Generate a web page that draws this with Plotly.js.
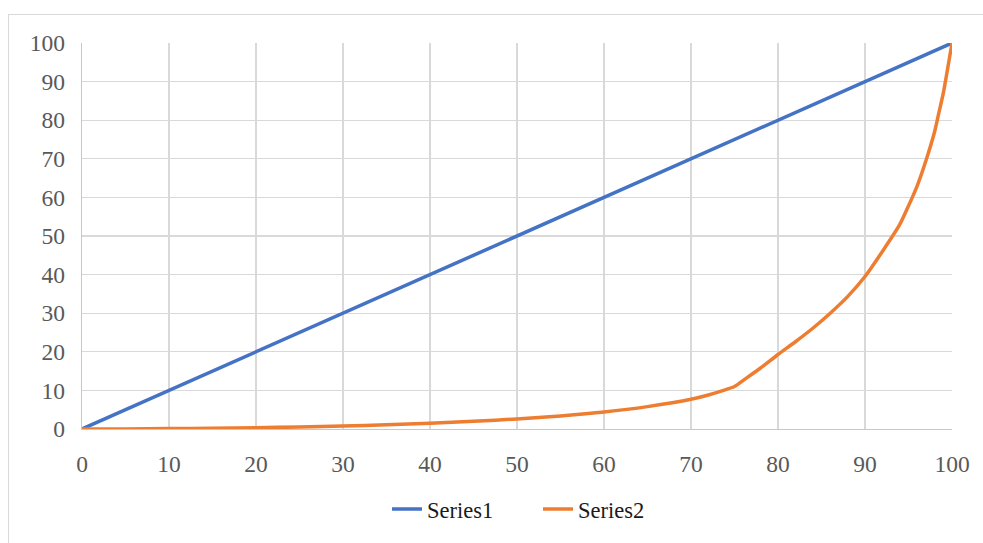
<!DOCTYPE html>
<html>
<head>
<meta charset="utf-8">
<script src="https://cdn.plot.ly/plotly-3.0.1.min.js"></script>
<style>
  html, body { margin: 0; padding: 0; background: #ffffff; }
  #wrap { position: relative; width: 983px; height: 543px; overflow: hidden; }
  #chart { position: absolute; left: 0; top: 0; width: 983px; height: 543px; }
  #frame {
    position: absolute; left: 8px; top: 14px; width: 1100px; height: 700px;
    border: 1px solid #d9d9d9; pointer-events: none; box-sizing: border-box;
  }
</style>
</head>
<body>
<div id="wrap">
  <div id="chart"></div>
  <div id="frame"></div>
</div>
<script>
// Line of equality
const series1X = [0, 100];
const series1Y = [0, 100];

// Cumulative share curve
const series2X = [0, 5, 10, 15, 20, 25, 30, 35, 40, 45, 50, 55, 60, 65, 70, 72, 74, 75, 76, 78, 80, 82, 84, 86, 88, 90, 92, 94, 95, 96, 97, 98, 98.5, 99, 100];
const series2Y = [0, 0.03, 0.1, 0.2, 0.35, 0.5, 0.75, 1.1, 1.5, 2.0, 2.6, 3.4, 4.4, 5.8, 7.7, 8.8, 10.2, 11.0, 12.6, 15.8, 19.3, 22.6, 26.1, 30.0, 34.3, 39.5, 46.0, 53.0, 57.8, 63.0, 69.5, 77.0, 82.0, 87.0, 100];

const tickVals = [0, 10, 20, 30, 40, 50, 60, 70, 80, 90, 100];

const serif = '"Liberation Serif", "Times New Roman", serif';

const traces = [
  {
    x: series1X, y: series1Y, name: 'Series1', type: 'scatter', mode: 'lines',
    line: { color: '#4472C4', width: 3.5 }, cliponaxis: false
  },
  {
    x: series2X, y: series2Y, name: 'Series2', type: 'scatter', mode: 'lines',
    line: { color: '#ED7D31', width: 3.5, shape: 'spline', smoothing: 0.6 }, cliponaxis: false
  }
];

const axisCommon = {
  range: [0, 100],
  tickvals: tickVals,
  showgrid: true,
  gridcolor: '#d9d9d9',
  gridwidth: 1.3,
  zeroline: false,
  showline: true,
  linecolor: '#c8c8c8',
  linewidth: 1.3,
  ticks: '',
  tickfont: { family: serif, size: 23.5, color: '#595959' },
  fixedrange: true
};

const layout = {
  width: 983,
  height: 543,
  margin: { l: 82, r: 31, t: 43, b: 111 },
  paper_bgcolor: '#ffffff',
  plot_bgcolor: '#ffffff',
  font: { family: serif },
  xaxis: Object.assign({}, axisCommon, { ticklabelstandoff: 13 }),
  yaxis: Object.assign({}, axisCommon, { ticklabelstandoff: 11 }),
  showlegend: true,
  legend: {
    orientation: 'h',
    x: 0.3506, xanchor: 'left',
    y: -0.208, yanchor: 'middle',
    entrywidth: 106, entrywidthmode: 'pixels',
    font: { family: serif, size: 22.5, color: '#1a1a1a' },
    bgcolor: 'rgba(0,0,0,0)'
  }
};

Plotly.newPlot('chart', traces, layout, { staticPlot: true, displayModeBar: false });
</script>
</body>
</html>
